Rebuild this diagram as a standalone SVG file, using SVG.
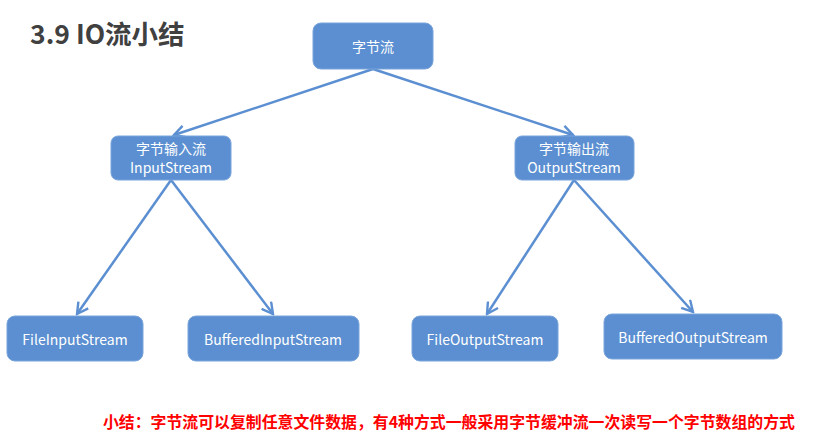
<svg xmlns="http://www.w3.org/2000/svg" width="818" height="435" viewBox="0 0 818 435">
<style>
.box{fill:#5b8fd1;stroke:#79a4db;stroke-width:1}
.t{fill:#ffffff;font-family:"Noto Sans CJK SC","Noto Sans",sans-serif;font-size:14px;text-anchor:middle;dominant-baseline:central}
.c{stroke:#5b8fd1;stroke-width:2.5;fill:none;marker-end:url(#ah)}
</style>
<defs>
<marker id="ah" viewBox="0 0 14 14" refX="12" refY="7" markerWidth="14" markerHeight="14" markerUnits="userSpaceOnUse" orient="auto">
<polyline points="1,1 12,7 1,13" fill="none" stroke="#5b8fd1" stroke-width="2.4"/>
</marker>
</defs>
<rect width="818" height="435" fill="#ffffff"/>
<text x="30" y="44" font-family="Noto Sans CJK SC,Noto Sans,sans-serif" font-size="26.5" font-weight="bold" fill="#404040">3.9 IO流小结</text>
<g id="connectors">
<line class="c" x1="373" y1="69" x2="174" y2="135"/>
<line class="c" x1="373" y1="69" x2="573" y2="135"/>
<line class="c" x1="171" y1="180" x2="77" y2="314"/>
<line class="c" x1="171" y1="180" x2="273" y2="314"/>
<line class="c" x1="574" y1="180" x2="487" y2="314"/>
<line class="c" x1="574" y1="180" x2="693" y2="312"/>
</g>
<g id="n-root"><rect class="box" x="313" y="23" width="120" height="46" rx="8"/><text class="t" x="373" y="46" font-size="15">字节流</text></g>
<g id="n-in"><rect class="box" x="111" y="136" width="120" height="44" rx="7"/><text class="t" x="171" y="148" font-size="13">字节输入流</text><text class="t" x="171" y="167">InputStream</text></g>
<g id="n-out"><rect class="box" x="515" y="136" width="119" height="44" rx="7"/><text class="t" x="574" y="148" font-size="13">字节输出流</text><text class="t" x="574" y="167">OutputStream</text></g>
<g id="n-fis"><rect class="box" x="7" y="316" width="136" height="45" rx="8"/><text class="t" x="75" y="339">FileInputStream</text></g>
<g id="n-bis"><rect class="box" x="188" y="316" width="171" height="45" rx="8"/><text class="t" x="273" y="339">BufferedInputStream</text></g>
<g id="n-fos"><rect class="box" x="412" y="316" width="146" height="45" rx="8"/><text class="t" x="485" y="339">FileOutputStream</text></g>
<g id="n-bos"><rect class="box" x="604" y="314" width="178" height="45" rx="8"/><text class="t" x="693" y="337">BufferedOutputStream</text></g>
<text x="103" y="428" font-family="Noto Sans CJK SC,Noto Sans,sans-serif" font-size="16" font-weight="bold" fill="#ff0000" textLength="692" lengthAdjust="spacingAndGlyphs">小结：字节流可以复制任意文件数据，有4种方式一般采用字节缓冲流一次读写一个字节数组的方式</text>
</svg>
